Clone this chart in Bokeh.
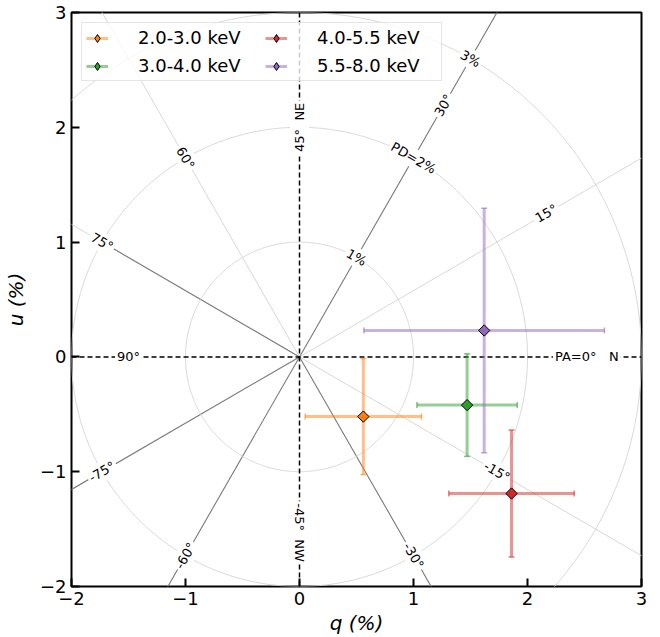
import numpy as np
from bokeh.plotting import figure
from bokeh.models import (Range1d, ColumnDataSource, Label, Legend, LegendItem,
                          CustomJSTickFormatter, FixedTicker, Span)
from bokeh.embed import file_html
from bokeh.resources import INLINE

# ---------------- data ----------------
bands = ["2.0-3.0 keV", "3.0-4.0 keV", "4.0-5.5 keV", "5.5-8.0 keV"]
band_colors = ["#ff7f0e", "#2ca02c", "#d62728", "#9467bd"]
q_val = [0.56, 1.47, 1.86, 1.62]
u_val = [-0.52, -0.42, -1.19, 0.23]
q_err = [0.51, 0.44, 0.55, 1.055]
u_err = [0.505, 0.447, 0.553, 1.065]

tick_values = [-2, -1, 0, 1, 2, 3]
x_title = "q (%)"
y_title = "u (%)"

pd_levels = [1, 2, 3]
pd_texts = ["1%", "PD=2%", "3%"]
pd_label_pa = 30

pa_light = [15, 60, -15, 75]
pa_dark = [30, -30, -60, -75]
pa_dark_short = [75]
pa_dark_short_r = [2.0]
pa_label_vals = [0, 15, 30, 45, 60, 75, 90, -15, -30, -45, -60, -75]
pa_label_texts = ["PA=0°\u00a0\u00a0\u00a0N", "15°", "30°", "45°\u00a0\u00a0NE", "60°", "75°", "90°",
                  "-15°", "-30°", "-45°\u00a0\u00a0NW", "-60°", "-75°"]
pa_label_r = [2.52, 2.5, 2.53, 2.0, 2.0, 2.0, 1.5, 2.0, 2.0, 1.53, 2.0, 2.0]

FONT = "DejaVu Sans"

p = figure(width=660, height=637, x_range=Range1d(-2, 3), y_range=Range1d(-2, 3),
           output_backend="svg", toolbar_location=None,
           min_border_left=71, min_border_right=19, min_border_top=12, min_border_bottom=50)
p.grid.visible = False
p.outline_line_color = "black"
p.outline_line_width = 2
p.background_fill_color = "white"
p.border_fill_color = "white"

fmt_code = "return (tick < 0 ? '\\u2212' : '') + Math.abs(tick).toFixed(0);"
for ax in (p.xaxis[0], p.yaxis[0]):
    ax.ticker = FixedTicker(ticks=tick_values, minor_ticks=[])
    ax.formatter = CustomJSTickFormatter(code=fmt_code)
    ax.major_tick_in = 8
    ax.major_tick_out = 0
    ax.minor_tick_in = 0
    ax.minor_tick_out = 0
    ax.major_tick_line_width = 2
    ax.major_tick_line_color = "black"
    ax.axis_line_color = None
    ax.major_label_text_font = FONT
    ax.major_label_text_font_size = "18px"
    ax.major_label_text_color = "black"
    ax.major_label_standoff = 5
    ax.axis_label_text_font = FONT
    ax.axis_label_text_font_size = "20px"
    ax.axis_label_text_font_style = "italic"
    ax.axis_label_text_color = "black"
p.xaxis[0].axis_label = x_title
p.yaxis[0].axis_label = y_title
p.xaxis[0].axis_label_standoff = 3
p.yaxis[0].axis_label_standoff = 9

# ---------------- guides ----------------
R = 6.0
def ends(pa_list, r):
    ang = np.radians(2 * np.array(pa_list, dtype=float))
    return (np.array(r) * np.cos(ang)).tolist(), (np.array(r) * np.sin(ang)).tolist()

xl, yl = ends(pa_light, R)
p.segment(x0=0, y0=0, x1=xl, y1=yl, line_color="#d4d4d4", line_width=0.9, level="image")
xd, yd = ends(pa_dark, R)
p.segment(x0=0, y0=0, x1=xd, y1=yd, line_color="#7a7a7a", line_width=1.1, level="image")
xs, ys = ends(pa_dark_short, pa_dark_short_r)
p.segment(x0=0, y0=0, x1=xs, y1=ys, line_color="#7a7a7a", line_width=1.1, level="image")

theta = np.linspace(0, 2 * np.pi, 721)
p.multi_line(xs=[(r * np.cos(theta)).tolist() for r in pd_levels],
             ys=[(r * np.sin(theta)).tolist() for r in pd_levels],
             line_color="#d4d4d4", line_width=0.9, level="image")

p.add_layout(Span(location=0, dimension="width", line_color="black", line_dash="5 3",
                  line_width=1.5, level="underlay"))
p.add_layout(Span(location=0, dimension="height", line_color="black", line_dash="5 3",
                  line_width=1.5, level="underlay"))

def rot(deg):
    while deg > 90:
        deg -= 180
    while deg < -90:
        deg += 180
    return np.radians(deg)

for pa, txt, r in zip(pa_label_vals, pa_label_texts, pa_label_r):
    a = np.radians(2 * pa)
    p.add_layout(Label(x=r * np.cos(a), y=r * np.sin(a), text=txt, angle=rot(2 * pa),
                       text_align="center", text_baseline="middle", text_font=FONT,
                       text_font_size="13px", text_color="black",
                       background_fill_color="white", padding=2, level="underlay"))

for r, txt in zip(pd_levels, pd_texts):
    a = np.radians(2 * pd_label_pa)
    p.add_layout(Label(x=r * np.cos(a), y=r * np.sin(a), text=txt, angle=rot(2 * pd_label_pa - 90),
                       text_align="center", text_baseline="middle", text_font=FONT,
                       text_font_size="13px", text_color="black",
                       background_fill_color="white", padding=2, level="underlay"))

# ---------------- data glyphs ----------------
qa, ua = np.array(q_val), np.array(u_val)
qe, ue = np.array(q_err), np.array(u_err)
src = ColumnDataSource(dict(q=q_val, u=u_val,
                            q_lo=(qa - qe).tolist(), q_hi=(qa + qe).tolist(),
                            u_lo=(ua - ue).tolist(), u_hi=(ua + ue).tolist(),
                            color=band_colors, band=bands))

hbar = p.segment(x0="q_lo", y0="u", x1="q_hi", y1="u", line_color="color", line_alpha=0.5,
                 line_width=3, source=src)
p.segment(x0="q", y0="u_lo", x1="q", y1="u_hi", line_color="color", line_alpha=0.5,
          line_width=3, source=src)
for xc, yc, ang in (("q_lo", "u", np.pi / 2), ("q_hi", "u", np.pi / 2),
                    ("q", "u_lo", 0.0), ("q", "u_hi", 0.0)):
    p.scatter(x=xc, y=yc, marker="dash", angle=ang, size=6, line_color="color",
              line_alpha=0.6, line_width=1.5, source=src)

p.scatter(x="q", y="u", marker="square", angle=np.pi / 4, size=8, fill_color="color",
          line_color="black", line_width=1, source=src)

leg_d = p.scatter(x="q", y="u", marker="diamond", size=10, fill_color="color",
                  line_color="black", line_width=1, source=src, visible=False)

items = [LegendItem(label=bands[i], renderers=[hbar, leg_d], index=i) for i in range(len(bands))]
legend = Legend(items=items, location="top_left", ncols=2, orientation="vertical",
                label_text_font=FONT, label_text_font_size="18px", label_text_color="black",
                glyph_width=22, glyph_height=20, label_height=20, label_width=120,
                label_standoff=30, spacing=7, padding=4, margin=10,
                border_line_color="#cccccc", border_line_width=1,
                background_fill_color="white", background_fill_alpha=0.8)
p.add_layout(legend)

open("out.html", "w").write(file_html(p, INLINE))
